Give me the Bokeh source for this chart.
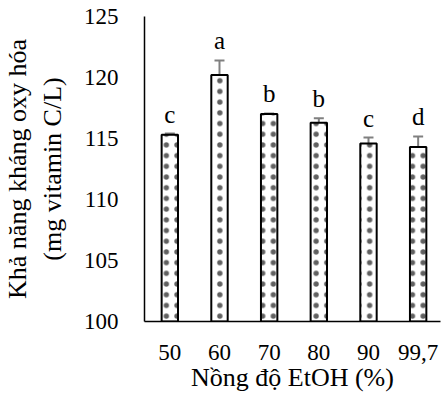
from bokeh.plotting import figure
from bokeh.models import ColumnDataSource, Whisker, FixedTicker, Range1d
from bokeh.embed import file_html
from bokeh.resources import INLINE
from bokeh.core.properties import value

categories = ["50", "60", "70", "80", "90", "99,7"]
means = [115.3, 120.2, 117.0, 116.3, 114.6, 114.3]
errors = [0.1, 1.2, 0.05, 0.37, 0.48, 0.87]
letters = ["c", "a", "b", "b", "c", "d"]
y_ticks = [100, 105, 110, 115, 120, 125]

FONT = "Liberation Serif"

xs = list(range(len(categories)))
src = ColumnDataSource(dict(
    x=xs, top=means,
    upper=[m + e for m, e in zip(means, errors)],
    lower=[m - e for m, e in zip(means, errors)],
    letter=letters,
))

p = figure(width=444, height=394, output_backend="svg", toolbar_location=None,
           x_range=Range1d(-0.51, 5.45), y_range=Range1d(100, 125),
           min_border_left=137, min_border_right=4, min_border_top=16, min_border_bottom=72)

p.vbar(x="x", top="top", bottom=100, width=0.33, source=src,
       fill_color="white", line_color="black", line_width=2,
       hatch_pattern="dot", hatch_color="#606060", hatch_scale=10.7, hatch_weight=1.0)

w = Whisker(base="x", upper="upper", lower="lower", source=src,
            line_color="#808080", line_width=2)
for h in (w.upper_head, w.lower_head):
    h.size = 10
    h.line_color = "#808080"
    h.line_width = 2
p.add_layout(w)

p.text(x="x", y="upper", text="letter", source=src, text_align="center",
       text_baseline="bottom", y_offset=-6, text_font=value(FONT),
       text_font_size="25px", text_color="black")

p.grid.visible = False
p.outline_line_color = None

p.xaxis.ticker = FixedTicker(ticks=xs)
p.xaxis.major_label_overrides = {i: c for i, c in zip(xs, categories)}
p.yaxis.ticker = FixedTicker(ticks=y_ticks)

for ax in (p.xaxis, p.yaxis):
    ax.major_tick_line_color = None
    ax.minor_tick_line_color = None
    ax.axis_line_color = "black"
    ax.axis_line_width = 1.5
    ax.major_label_text_font = FONT
    ax.major_label_text_font_size = "23px"
    ax.major_label_text_color = "black"
    ax.axis_label_text_font = FONT
    ax.axis_label_text_font_size = "26px"
    ax.axis_label_text_font_style = "normal"
    ax.axis_label_text_color = "black"

p.xaxis.major_label_standoff = 17
p.yaxis.major_label_standoff = 20
p.xaxis.axis_label = "Nồng độ EtOH (%)"
p.xaxis.axis_label_standoff = 0
p.yaxis.axis_label = "Khả năng kháng oxy hóa\n(mg vitamin C/L)"
p.yaxis.axis_label_standoff = 14

open("out.html", "w").write(file_html(p, INLINE))
